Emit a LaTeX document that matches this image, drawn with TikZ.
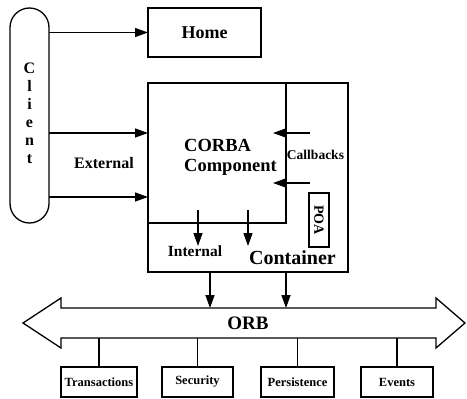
\documentclass[tikz,border=0pt]{standalone}
\usepackage{fontspec}
\setmainfont{Liberation Serif}
\usetikzlibrary{arrows.meta}
\begin{document}
\begin{tikzpicture}[x=1pt,y=-1pt,
  box/.style={draw, line width=1.3pt, inner sep=0pt, outer sep=0pt},
  arr/.style={line width=1.3pt, -{Triangle[length=13pt,width=9pt]}},
  conn/.style={line width=1.3pt},
  lbl/.style={inner sep=0pt, font=\bfseries\fontsize{#1}{#1}\selectfont},
]
\useasboundingbox (0,0) rectangle (467,399);

% client pill
\node[box, rounded corners=19.5pt, minimum width=39pt, minimum height=215pt] (client) at (29.5,115.5) {};
\node[inner sep=0pt, align=center, font=\bfseries\fontsize{16}{18}\selectfont] (clienttxt) at (29.5,113) {C\\l\\i\\e\\n\\t};

% home
\node[box, lbl=18, minimum width=113pt, minimum height=49pt, anchor=north west] (home) at (148,8) {Home};

% container and component
\node[box, minimum width=200pt, minimum height=189pt, anchor=north west] (cont) at (148,83) {};
\node[box, minimum width=138pt, minimum height=140pt, anchor=north west] (comp) at (148,83) {};

\node[inner sep=0pt, align=left, anchor=west, font=\bfseries\fontsize{18.5}{20}\selectfont] (comptxt) at (184,157) {CORBA\\Component};
\node[lbl=16] (exttxt) at (104,163) {External};
\node[lbl=13.5] (cbtxt) at (315.5,155) {Callbacks};
\node[box, lbl=14, rotate=-90, minimum width=54pt, minimum height=20pt] (poa) at (319,220) {POA};
\node[lbl=20] (conttxt) at (292.5,258) {Container};
\node[lbl=15.5] (inttxt) at (195,251) {Internal};

% client arrows
\coordinate (y1) at (0,133);
\coordinate (y2) at (0,197);
\draw[arr] (client.east |- home.west) -- (home.west);
\draw[arr] (client.east |- y1) -- (comp.west |- y1);
\draw[arr] (client.east |- y2) -- (comp.west |- y2);

% callbacks
\coordinate (cb1s) at (310,133);
\coordinate (cb1e) at (273,133);
\coordinate (cb2s) at (310,183);
\coordinate (cb2e) at (273,183);
\draw[arr] (cb1s) -- (cb1e);
\draw[arr] (cb2s) -- (cb2e);

% internal
\coordinate (i1s) at (198,210);
\coordinate (i1e) at (198,246);
\coordinate (i2s) at (248,210);
\coordinate (i2e) at (248,246);
\draw[arr] (i1s) -- (i1e);
\draw[arr] (i2s) -- (i2e);

% ORB bus
\draw[conn, line join=miter] (23,323) -- (61,298) -- (61,308) -- (436,308) -- (436,298) -- (465,323) -- (436,348) -- (436,338) -- (61,338) -- (61,348) -- cycle;
\node[lbl=19] (orb) at (248,323) {ORB};
\coordinate (orbT) at (0,308);
\coordinate (orbB) at (0,338);
\coordinate (o1x) at (210,0);
\coordinate (o2x) at (286,0);
\draw[arr] (cont.south -| o1x) -- (o1x |- orbT);
\draw[arr] (cont.south -| o2x) -- (o2x |- orbT);

% services
\node[box, lbl=12.5, minimum width=76pt, minimum height=30pt] (trans) at (99,382) {Transactions};
\node[box, lbl=12.5, minimum width=71pt, minimum height=30pt] (sec) at (197.5,382) {Security};
\node[box, lbl=12.5, minimum width=73pt, minimum height=30pt] (pers) at (297.5,382) {Persistence};
\node[box, lbl=12.5, minimum width=72pt, minimum height=30pt] (evt) at (397,382) {Events};
\draw[conn] (trans.north) -- (trans.north |- orbB);
\draw[conn] (sec.north) -- (sec.north |- orbB);
\draw[conn] (pers.north) -- (pers.north |- orbB);
\draw[conn] (evt.north) -- (evt.north |- orbB);
\end{tikzpicture}
\end{document}
